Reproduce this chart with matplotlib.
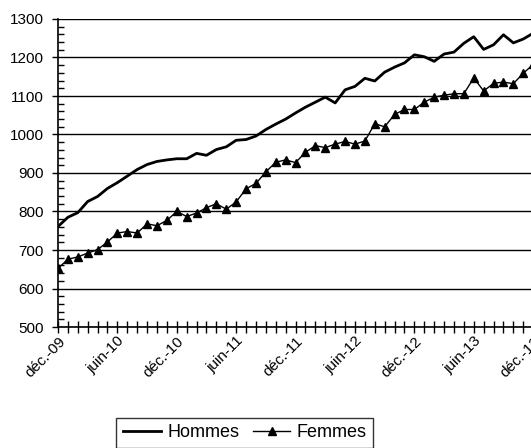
import matplotlib
matplotlib.use("Agg")
import matplotlib.pyplot as plt
from matplotlib.ticker import MultipleLocator, FixedLocator

plt.rcParams['font.family'] = ['Liberation Sans', 'DejaVu Sans']

months = list(range(49))
tick_pos = [0, 6, 12, 18, 24, 30, 36, 42, 48]
tick_labels = ["déc.-09", "juin-10", "déc.-10", "juin-11", "déc.-11",
               "juin-12", "déc.-12", "juin-13", "déc.-13"]

hommes = [761, 785, 797, 826, 839, 860, 875, 892, 909, 922, 930, 934, 937, 937,
          951, 946, 961, 968, 985, 987, 996, 1013, 1027, 1040, 1056, 1071, 1084,
          1097, 1082, 1116, 1125, 1146, 1139, 1162, 1175, 1186, 1207, 1202, 1190,
          1209, 1214, 1237, 1254, 1221, 1233, 1259, 1238, 1248, 1263]
femmes = [652, 676, 682, 692, 701, 721, 744, 748, 744, 768, 763, 777, 800, 787,
          796, 810, 820, 806, 825, 859, 873, 903, 928, 934, 927, 954, 971, 966,
          975, 982, 975, 983, 1028, 1020, 1052, 1065, 1065, 1084, 1097, 1102,
          1106, 1106, 1147, 1113, 1133, 1136, 1132, 1159, 1182]

fig = plt.figure(figsize=(5.31, 4.48), dpi=100)
ax = fig.add_axes([58/531, 1-327/448, 1-58/531+0.005, (327-19)/448])

ax.plot(months, hommes, color='black', lw=2.0, label='Hommes', zorder=3)
ax.plot(months, femmes, color='black', lw=1.0, marker='^', markersize=5.5,
        label='Femmes', zorder=3)

ax.set_ylim(500, 1300)
ax.set_xlim(0, 48.05)
ax.yaxis.set_major_locator(MultipleLocator(100))
ax.yaxis.set_minor_locator(MultipleLocator(20))
ax.grid(axis='y', which='major', color='black', lw=1.0)
ax.set_axisbelow(True)

ax.xaxis.set_major_locator(FixedLocator(tick_pos))
ax.set_xticklabels(tick_labels, rotation=45, ha='right', rotation_mode='anchor')
ax.xaxis.set_minor_locator(MultipleLocator(1))

ax.tick_params(axis='y', which='major', direction='out', length=4.5, width=1,
               labelsize=11, colors='black', pad=5.5)
ax.tick_params(axis='y', which='minor', direction='in', length=4, width=1)
ax.tick_params(axis='x', which='both', direction='inout', length=8, width=1,
               labelsize=11, pad=1)

for s in ['top', 'right']:
    ax.spines[s].set_visible(False)
for s in ['left', 'bottom']:
    ax.spines[s].set_color('black')
    ax.spines[s].set_linewidth(1.2)

leg = fig.legend(loc='upper center', bbox_to_anchor=(0.461, 1-418/448), ncol=2,
                 frameon=True, fancybox=False, edgecolor='black', fontsize=13,
                 handlelength=2.1, columnspacing=0.75, handletextpad=0.35,
                 borderpad=0.35, borderaxespad=0)
leg.get_frame().set_linewidth(1.0)

fig.savefig("out.png", dpi=100)
